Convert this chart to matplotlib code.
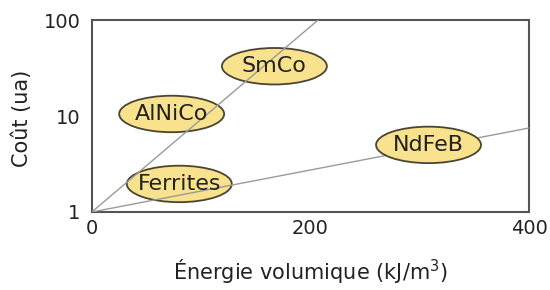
import matplotlib
matplotlib.use("Agg")
import matplotlib.pyplot as plt
from matplotlib.patches import Ellipse

plt.rcParams['font.family'] = ['DejaVu Sans']

# droites de coût (énergie, coût)
steep_x = [0, 207]
steep_y = [1, 100]
shallow_x = [0, 400]
shallow_y = [1, 7.5]

# étiquettes des matériaux
materials = ["SmCo", "AlNiCo", "Ferrites", "NdFeB"]
mat_energy = [167, 73, 80, 308]
mat_cost = [33, 10.5, 1.96, 5.0]

xticks = [0, 200, 400]
xtick_labels = ["0", "200", "400"]
yticks = [1, 10, 100]
ytick_labels = ["1", "10", "100"]

fig = plt.figure(figsize=(5.5, 2.9), dpi=100)
ax = fig.add_axes([0.167, 0.269, 0.795, 0.662])
ax.set_yscale('log')
ax.set_xlim(0, 400)
ax.set_ylim(1, 100)

ax.plot(steep_x, steep_y, color='#9a9a9a', lw=1.0, zorder=3)
ax.plot(shallow_x, shallow_y, color='#9a9a9a', lw=1.0, zorder=3)

for name, ex, cy in zip(materials, mat_energy, mat_cost):
    # centre en coordonnées axes pour garder une ellipse régulière en log
    disp = ax.transData.transform((ex, cy))
    cx, cyy = ax.transAxes.inverted().transform(disp)
    z = 4 if name == "NdFeB" else 2
    ell = Ellipse((cx, cyy), 0.24, 0.19, transform=ax.transAxes,
                  facecolor='#f8e28d', edgecolor='#4a4530', lw=1.3, zorder=z)
    ax.add_patch(ell)
    ax.text(cx, cyy, name, transform=ax.transAxes, ha='center', va='center',
            fontsize=16, color='#222222', zorder=5)

ax.set_xticks(xticks)
ax.set_xticklabels(xtick_labels)
ax.set_yticks(yticks)
ax.set_yticklabels(ytick_labels)
ax.minorticks_off()
ax.tick_params(length=0, labelsize=14, colors='#222222')
ax.tick_params(axis='x', pad=5)
ax.tick_params(axis='y', pad=8)

for s in ax.spines.values():
    s.set_color('#555555')
    s.set_linewidth(1.5)

ax.set_xlabel("Énergie volumique (kJ/m$^3$)", fontsize=15, color='#222222', va='center')
ax.xaxis.set_label_coords(0.5, -0.31)
ax.set_ylabel("Coût (ua)", fontsize=15, color='#222222', va='center')
ax.yaxis.set_label_coords(-0.16, 0.49)

fig.savefig("out.png", dpi=100)
